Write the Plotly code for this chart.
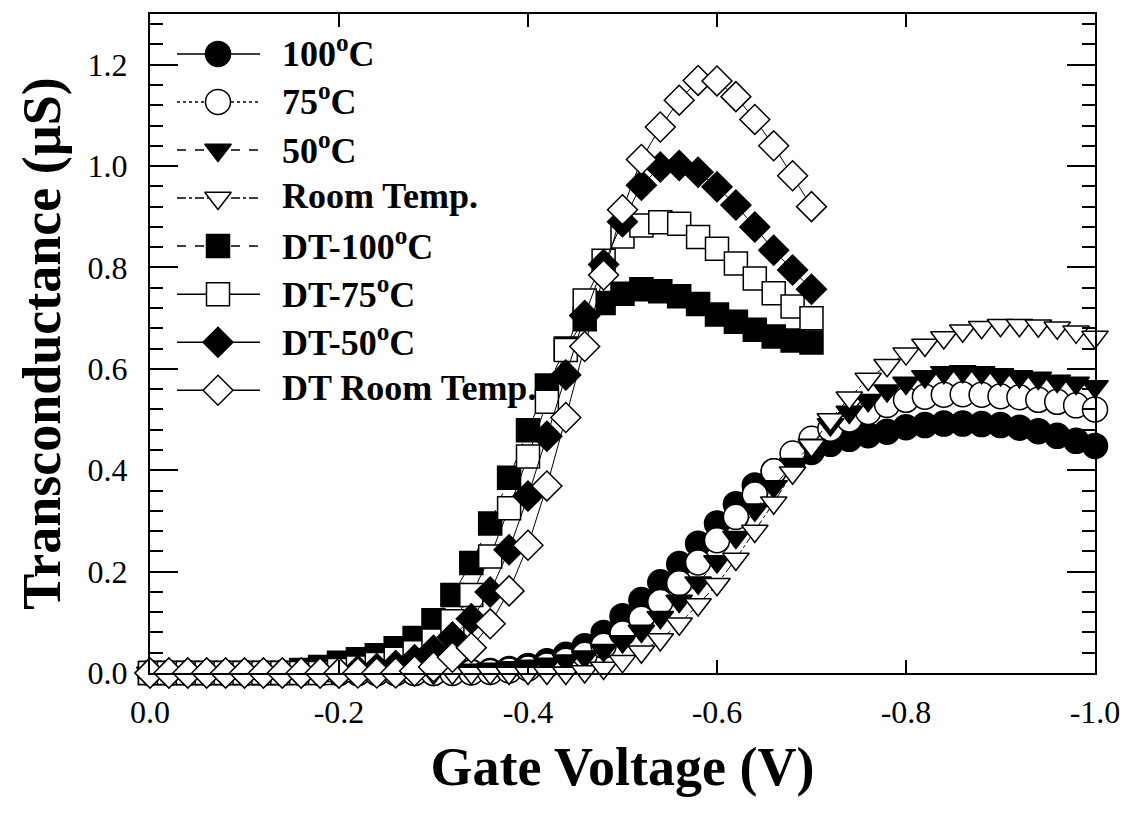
import plotly.graph_objects as go

# ---------------- data ----------------
gate_v = [0.0, -0.02, -0.04, -0.06, -0.08, -0.10, -0.12, -0.14, -0.16, -0.18,
          -0.20, -0.22, -0.24, -0.26, -0.28, -0.30, -0.32, -0.34, -0.36, -0.38,
          -0.40, -0.42, -0.44, -0.46, -0.48, -0.50, -0.52, -0.54, -0.56, -0.58,
          -0.60, -0.62, -0.64, -0.66, -0.68, -0.70, -0.72, -0.74, -0.76, -0.78,
          -0.80, -0.82, -0.84, -0.86, -0.88, -0.90, -0.92, -0.94, -0.96, -0.98,
          -1.00]
gate_v_dt = [0.0, -0.02, -0.04, -0.06, -0.08, -0.10, -0.12, -0.14, -0.16, -0.18,
             -0.20, -0.22, -0.24, -0.26, -0.28, -0.30, -0.32, -0.34, -0.36, -0.38,
             -0.40, -0.42, -0.44, -0.46, -0.48, -0.50, -0.52, -0.54, -0.56, -0.58,
             -0.60, -0.62, -0.64, -0.66, -0.68, -0.70]

gm_100c = [0, 0, 0, 0, 0, 0, 0, 0, 0, 0,
           0, 0, 0, 0, 0, 0, 0.001, 0.002, 0.004, 0.008,
           0.014, 0.023, 0.036, 0.053, 0.079, 0.112, 0.144, 0.179, 0.215, 0.255,
           0.295, 0.333, 0.370, 0.398, 0.418, 0.436, 0.452, 0.462, 0.469, 0.476,
           0.485, 0.489, 0.492, 0.492, 0.491, 0.489, 0.484, 0.477, 0.468, 0.458,
           0.448]
gm_75c = [0, 0, 0, 0, 0, 0, 0, 0, 0, 0,
          0, 0, 0, 0, 0, 0, 0, 0.001, 0.002, 0.005,
          0.009, 0.015, 0.024, 0.036, 0.054, 0.078, 0.107, 0.140, 0.177, 0.218,
          0.262, 0.308, 0.352, 0.398, 0.433, 0.462, 0.482, 0.500, 0.515, 0.529,
          0.539, 0.545, 0.549, 0.550, 0.549, 0.546, 0.544, 0.539, 0.535, 0.528,
          0.520]
gm_50c = [0, 0, 0, 0, 0, 0, 0, 0, 0, 0,
          0, 0, 0, 0, 0, 0.002, 0.004, 0.006, 0.008, 0.011,
          0.014, 0.018, 0.024, 0.032, 0.045, 0.062, 0.083, 0.110, 0.142, 0.178,
          0.220, 0.268, 0.322, 0.368, 0.412, 0.450, 0.490, 0.515, 0.538, 0.557,
          0.572, 0.585, 0.593, 0.595, 0.593, 0.589, 0.585, 0.582, 0.576, 0.572,
          0.565]
gm_room = [0, 0, 0, 0, 0, 0, 0, 0, 0, 0,
           0, 0, 0, 0, 0, 0, 0, 0, 0, 0,
           0, 0, 0, 0.003, 0.010, 0.023, 0.042, 0.066, 0.097, 0.135,
           0.175, 0.225, 0.280, 0.336, 0.395, 0.449, 0.500, 0.543, 0.580, 0.607,
           0.630, 0.647, 0.662, 0.675, 0.682, 0.686, 0.686, 0.685, 0.681, 0.673,
           0.663]
gm_dt_100c = [0, 0, 0, 0, 0, 0, 0, 0, 0.006, 0.012,
              0.020, 0.027, 0.035, 0.049, 0.069, 0.104, 0.154, 0.217, 0.295, 0.385,
              0.479, 0.567, 0.640, 0.698, 0.730, 0.748, 0.757, 0.753, 0.743, 0.728,
              0.707, 0.693, 0.677, 0.664, 0.656, 0.652]
gm_dt_75c = [0, 0, 0, 0, 0, 0, 0, 0, 0, 0,
             0.006, 0.011, 0.018, 0.028, 0.041, 0.064, 0.102, 0.154, 0.230, 0.325,
             0.427, 0.535, 0.637, 0.735, 0.813, 0.861, 0.883, 0.889, 0.886, 0.860,
             0.837, 0.808, 0.778, 0.749, 0.723, 0.700]
gm_dt_50c = [0, 0, 0, 0, 0, 0, 0, 0, 0, 0,
             0, 0.005, 0.009, 0.015, 0.026, 0.045, 0.071, 0.107, 0.160, 0.243,
             0.349, 0.467, 0.588, 0.705, 0.806, 0.890, 0.962, 0.998, 1.001, 0.988,
             0.959, 0.923, 0.880, 0.834, 0.795, 0.757]
gm_dt_room = [0, 0, 0, 0, 0, 0, 0, 0, 0, 0,
              0, 0, 0, 0, 0.004, 0.012, 0.031, 0.050, 0.097, 0.162,
              0.252, 0.369, 0.504, 0.644, 0.785, 0.914, 1.013, 1.077, 1.130, 1.169,
              1.168, 1.137, 1.092, 1.040, 0.981, 0.920]

series_names = ["100<sup>o</sup>C", "75<sup>o</sup>C", "50<sup>o</sup>C", "Room Temp.",
                "DT-100<sup>o</sup>C", "DT-75<sup>o</sup>C", "DT-50<sup>o</sup>C",
                "DT Room Temp."]
x_tick_vals = [0.0, -0.2, -0.4, -0.6, -0.8, -1.0]
x_tick_text = ["0.0", "-0.2", "-0.4", "-0.6", "-0.8", "-1.0"]

# ---------------- styles ----------------
series_x = [gate_v, gate_v, gate_v, gate_v, gate_v_dt, gate_v_dt, gate_v_dt, gate_v_dt]
series_y = [gm_100c, gm_75c, gm_50c, gm_room, gm_dt_100c, gm_dt_75c, gm_dt_50c, gm_dt_room]
symbols = ["circle", "circle", "triangle-down", "triangle-down",
           "square", "square", "diamond", "diamond"]
fills = ["black", "white", "black", "white", "black", "white", "black", "white"]
sizes = [25, 25, 23, 23, 23, 23, 23, 23]
dashes = ["solid", "dot", "dash", "dashdot", "dash", "solid", "solid", "solid"]

FONT = "Liberation Serif"

fig = go.Figure()
for xs, ys, sym, fc, sz, ds, nm in zip(series_x, series_y, symbols, fills, sizes, dashes, series_names):
    fig.add_trace(go.Scatter(
        x=xs, y=ys, mode="lines+markers", name=nm,
        line=dict(color="black", width=1, dash=ds),
        marker=dict(symbol=sym, size=sz, color=fc, opacity=1,
                    line=dict(color="black", width=1.5)),
        cliponaxis=False, showlegend=False,
    ))

# ---------------- hand-drawn legend (layout, in plot-area fractions) ----------------
plot_w, plot_h = 945.0, 661.0
row0_px, row_step_px = 40.0, 48.2          # from top of plot area
key_x0_px, key_xm_px, key_x1_px, text_px = 27.0, 68.0, 110.0, 130.0
n = len(series_names)
row_fr = [1 - (row0_px + row_step_px * i) / plot_h for i in range(n)]
for i in range(n):
    fig.add_shape(type="line", xref="paper", yref="paper", layer="below",
                  x0=key_x0_px / plot_w, x1=key_x1_px / plot_w, y0=row_fr[i], y1=row_fr[i],
                  line=dict(color="black", width=1.5, dash=dashes[i]))
    fig.add_annotation(xref="paper", yref="paper", x=text_px / plot_w, y=row_fr[i] + 0.003,
                       xanchor="left", yanchor="middle", showarrow=False,
                       text="<b>" + series_names[i] + "</b>",
                       font=dict(family=FONT, size=36, color="black"))
    fig.add_trace(go.Scatter(
        x=[key_xm_px / plot_w], y=[row_fr[i]], xaxis="x2", yaxis="y2", mode="markers",
        marker=dict(symbol=symbols[i], size=sizes[i], color=fills[i], opacity=1,
                    line=dict(color="black", width=1.5)),
        showlegend=False, hoverinfo="skip", cliponaxis=False,
    ))

fig.update_layout(
    width=1137, height=819,
    margin=dict(l=150, r=42, t=12, b=146),
    plot_bgcolor="white", paper_bgcolor="white",
    showlegend=False,
    font=dict(family=FONT, color="black"),
    xaxis=dict(
        range=[0, -1.0], tickvals=x_tick_vals, ticktext=x_tick_text,
        ticks="inside", ticklen=13, tickwidth=1.5, tickcolor="black",
        showline=True, linewidth=2, linecolor="black", mirror="ticks",
        showgrid=False, zeroline=False,
        tickfont=dict(family=FONT, size=32, color="black"), ticklabelstandoff=10,
        title=dict(text="Gate Voltage (V)", standoff=18,
                   font=dict(family=FONT, size=54, color="black", weight="bold")),
    ),
    yaxis=dict(
        range=[0, 1.3], tick0=0, dtick=0.2, tickformat=".1f",
        ticks="inside", ticklen=28, tickwidth=1.5, tickcolor="black",
        minor=dict(tick0=0, dtick=0.04, ticks="inside", ticklen=13, tickwidth=1.5, tickcolor="black"),
        showline=True, linewidth=2, linecolor="black", mirror="ticks",
        showgrid=False, zeroline=False,
        tickfont=dict(family=FONT, size=32, color="black"), ticklabelstandoff=14,
        title=dict(text="Transconductance (µS)", standoff=10,
                   font=dict(family=FONT, size=54, color="black", weight="bold")),
    ),
    xaxis2=dict(overlaying="x", range=[0, 1], visible=False, fixedrange=True),
    yaxis2=dict(overlaying="y", range=[0, 1], visible=False, fixedrange=True),
)

fig.write_html("out.html")
